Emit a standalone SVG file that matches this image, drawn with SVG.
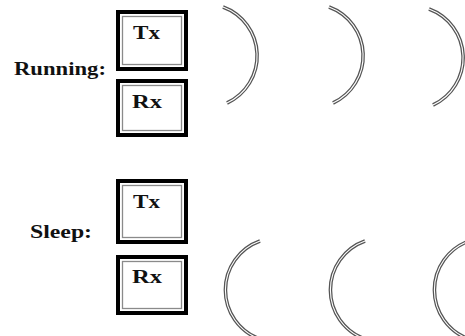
<svg xmlns="http://www.w3.org/2000/svg" width="465" height="336" viewBox="0 0 465 336">
<style>
.lbl{font-family:"Liberation Serif","Times New Roman",serif;font-weight:bold;fill:#111}
.outer{fill:#fff;stroke:#000;stroke-width:4}
.inner{fill:none;stroke:#8a8a8a;stroke-width:1.3}
.arcA{fill:none;stroke:#555;stroke-width:3.6}
.arcB{fill:none;stroke:#fff;stroke-width:1.1}
</style>
<rect width="465" height="336" fill="#fff"/>
<g id="label-running"><text class="lbl" x="14" y="75" font-size="19" textLength="92" lengthAdjust="spacingAndGlyphs">Running:</text></g>
<g id="label-sleep"><text class="lbl" x="30" y="238" font-size="19" textLength="62" lengthAdjust="spacingAndGlyphs">Sleep:</text></g>
<g id="run-tx">
<rect class="outer" x="118" y="12" width="68" height="57"/>
<rect class="inner" x="122.5" y="16.5" width="59" height="48"/>
<text class="lbl" x="133" y="39" font-size="18" textLength="27" lengthAdjust="spacingAndGlyphs">Tx</text>
</g>
<g id="run-rx">
<rect class="outer" x="118" y="81" width="68" height="54"/>
<rect class="inner" x="122.5" y="85.5" width="59" height="45"/>
<text class="lbl" x="132" y="108" font-size="18" textLength="30" lengthAdjust="spacingAndGlyphs">Rx</text>
</g>
<g id="sleep-tx">
<rect class="outer" x="118" y="181" width="68" height="61"/>
<rect class="inner" x="122.5" y="185.5" width="59" height="52"/>
<text class="lbl" x="133" y="208" font-size="18" textLength="27" lengthAdjust="spacingAndGlyphs">Tx</text>
</g>
<g id="sleep-rx">
<rect class="outer" x="118" y="257" width="68" height="56"/>
<rect class="inner" x="122.5" y="261.5" width="59" height="47"/>
<text class="lbl" x="132" y="283" font-size="18" textLength="30" lengthAdjust="spacingAndGlyphs">Rx</text>
</g>
<g id="waves">
<defs>
<path id="r1" d="M223,7 A52,52 0 0 1 227,103"/>
<path id="r2" d="M329,7 A52,52 0 0 1 333,103"/>
<path id="r3" d="M429,9 A52,52 0 0 1 433,105"/>
<path id="s1" d="M260,241 A52,52 0 0 0 260,339"/>
<path id="s2" d="M365,241 A52,52 0 0 0 365,339"/>
<path id="s3" d="M469,241 A52,52 0 0 0 469,339"/>
</defs>
<use href="#r1" class="arcA"/><use href="#r1" class="arcB"/>
<use href="#r2" class="arcA"/><use href="#r2" class="arcB"/>
<use href="#r3" class="arcA"/><use href="#r3" class="arcB"/>
<use href="#s1" class="arcA"/><use href="#s1" class="arcB"/>
<use href="#s2" class="arcA"/><use href="#s2" class="arcB"/>
<use href="#s3" class="arcA"/><use href="#s3" class="arcB"/>
</g>
</svg>
